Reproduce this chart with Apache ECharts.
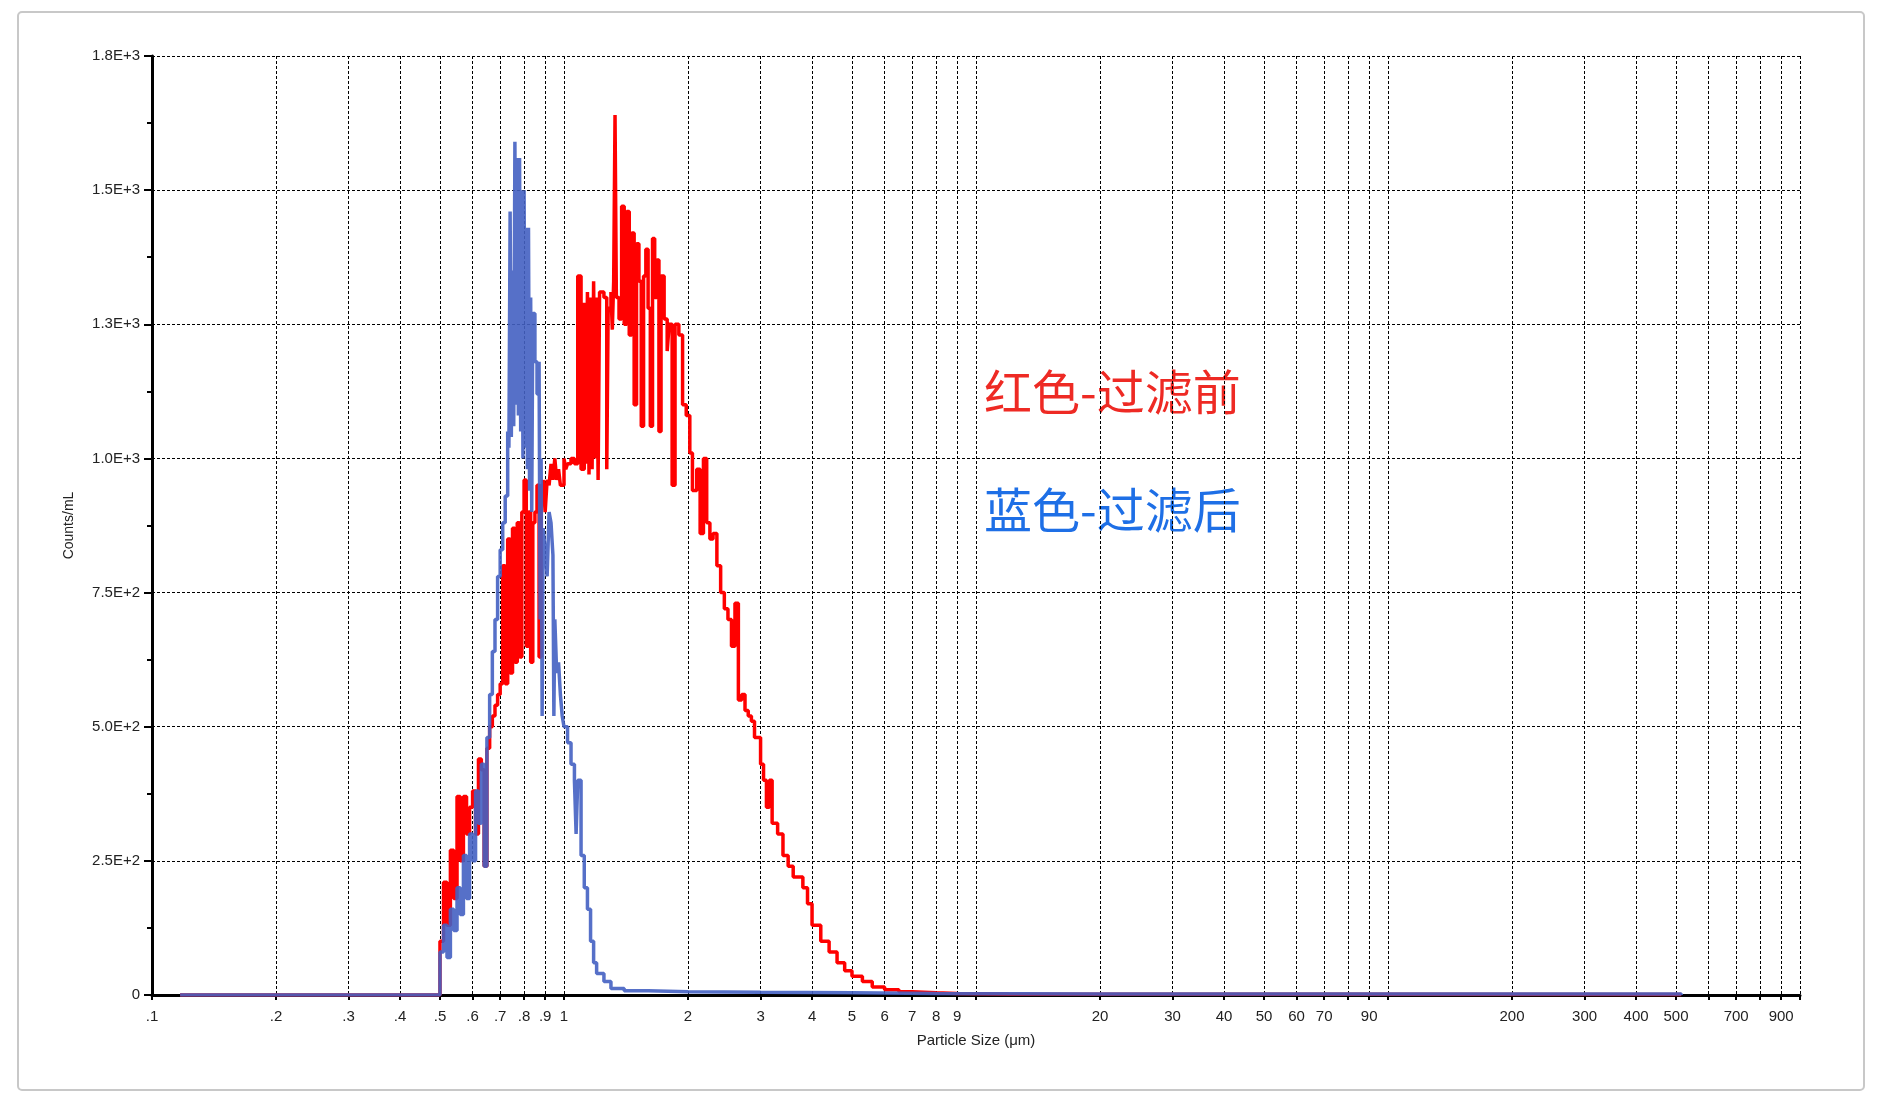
<!DOCTYPE html>
<html>
<head>
<meta charset="utf-8">
<script src="https://cdn.jsdelivr.net/npm/echarts@6/dist/echarts.min.js"></script>
<style>html,body{margin:0;padding:0;background:#fff;}#main{width:1878px;height:1098px;}</style>
</head>
<body>
<div id="main"></div>
<script>
// particle size (µm) and counts/mL
var redSize = [0.117,0.5,0.51,0.52,0.53,0.54,0.55,0.56,0.57,0.58,0.59,0.60,0.61,0.62,0.63,0.64,0.65,0.66,0.67,0.68,0.69,0.70,
  0.71,0.72,0.73,0.74,0.75,0.76,0.77,0.78,0.79,0.80,0.81,0.82,0.83,0.84,0.85,0.86,0.87,0.88,0.89,0.90,0.91,0.92,0.93,0.94,0.95,0.96,0.97,0.98,1.00,1.01,
  1.02,1.04,1.06,1.08,1.10,1.12,1.13,1.14,1.15,1.16,1.17,1.18,1.19,1.20,1.21,1.22,1.23,1.25,1.27,1.28,1.30,1.31,1.32,1.33,1.34,1.36,1.38,1.40,
  1.42,1.44,1.46,1.48,1.50,1.52,1.54,1.56,1.58,1.60,1.62,1.64,1.66,1.68,1.70,1.72,1.75,1.78,1.80,1.83,1.86,1.90,1.94,1.98,2.02,2.05,2.10,2.14,
  2.18,2.22,2.26,2.30,2.35,2.40,2.45,2.50,2.55,2.60,2.65,2.70,2.75,2.80,2.85,2.90,3.00,3.05,3.10,3.15,3.20,3.30,3.40,3.50,3.60,3.80,3.90,4.00,
  4.20,4.40,4.60,4.80,5.00,5.30,5.60,6.00,6.50,7.00,8.00,9.00,12,515];
var redCount = [0,100,210,130,270,180,370,250,370,300,350,380,300,440,420,240,460,500,520,540,560,580,
  800,580,850,600,870,620,880,630,900,960,650,900,620,880,900,950,630,950,960,900,960,950,990,960,1000,960,980,950,1000,980,
  990,1000,990,1340,980,1290,990,1310,970,1300,980,1330,1000,1300,960,1310,1310,1300,980,1280,1310,1240,1330,1640,1300,1260,1470,1250,
  1460,1230,1420,1100,1400,1330,1060,1340,1390,1280,1060,1410,1300,1370,1050,1340,1260,1200,1250,950,1250,1230,1100,1080,1010,940,980,860,
  1000,880,850,860,800,750,720,700,650,730,550,560,530,520,510,480,430,400,350,400,320,300,260,240,220,200,170,130,
  100,80,60,45,35,25,15,10,6,4,3,2,1,0];

var blueSize = [0.117,0.5,0.51,0.52,0.53,0.54,0.55,0.56,0.57,0.58,0.59,0.60,0.61,0.62,0.63,0.64,0.65,0.66,0.67,0.68,0.69,0.70,0.71,0.72,0.73,
  0.735,0.74,0.745,0.75,0.755,0.76,0.765,0.77,0.775,0.78,0.785,0.79,0.795,0.80,0.805,0.81,0.815,0.82,0.825,0.83,0.835,0.84,0.85,0.86,0.87,0.875,
  0.88,0.885,0.89,0.90,0.91,0.92,0.93,0.94,0.945,0.95,0.96,0.97,0.98,0.99,1.00,1.02,1.04,1.06,1.07,1.08,1.10,1.12,1.14,1.16,1.18,1.20,1.25,1.30,
  1.40,1.60,2,3,5,8,20,515];
var blueCount = [0,80,130,70,160,120,200,150,260,180,300,250,380,320,430,240,480,560,640,700,780,830,880,930,1050,
  1020,1460,1040,1350,1060,1590,1100,1560,1080,1560,1050,1500,1000,1500,1020,1430,980,1430,940,1300,900,1270,1180,1120,1180,700,
  1000,520,870,830,780,900,880,820,520,700,600,620,560,520,500,470,430,400,300,400,260,200,160,100,60,40,25,12,
  8,6,5,4,3,2,2,0];

var xTickValues = [0.1,0.2,0.3,0.4,0.5,0.6,0.7,0.8,0.9,1,2,3,4,5,6,7,8,9,10,20,30,40,50,60,70,80,90,100,200,300,400,500,600,700,800,900,1000];
var xTickLabels = ['.1','.2','.3','.4','.5','.6','.7','.8','.9','1','2','3','4','5','6','7','8','9','','20','30','40','50','60','70','','90','','200','300','400','500','','700','','900',''];
var yTickValues = [0,250,500,750,1000,1250,1500,1750];
var yTickLabels = ['0','2.5E+2','5.0E+2','7.5E+2','1.0E+3','1.3E+3','1.5E+3','1.8E+3'];

function pairs(xs, ys) {
  return xs.map(function (x, i) { return [x, ys[i]]; });
}

var myChart = echarts.init(document.getElementById('main'), null, { renderer: 'canvas' });

var font = 'Arial, "Liberation Sans", sans-serif';
var option = {
  animation: false,
  backgroundColor: '#fff',
  textStyle: { fontFamily: font },
  graphic: [
    { type: 'rect', shape: { x: 18, y: 12, width: 1846, height: 1078, r: 4 },
      style: { fill: 'none', stroke: '#c8c8c8', lineWidth: 2 }, z: -1 },
    { type: 'text', left: 984, top: 368,
      style: { text: '红色-过滤前', fill: '#ee2a24', font: '48px "Noto Sans CJK SC", sans-serif' } },
    { type: 'text', left: 984, top: 486,
      style: { text: '蓝色-过滤后', fill: '#1e6fe6', font: '48px "Noto Sans CJK SC", sans-serif' } }
  ],
  grid: { left: 152, right: 78, top: 56, bottom: 103 },
  xAxis: {
    type: 'log', logBase: 10, min: 0.1, max: 1000,
    name: 'Particle Size (μm)', nameLocation: 'middle', nameGap: 38,
    nameTextStyle: { fontSize: 15, color: '#222' },
    axisLine: { lineStyle: { color: '#000', width: 3 } },
    axisTick: { show: true, customValues: xTickValues, length: 5, lineStyle: { color: '#000', width: 2 } },
    axisLabel: {
      customValues: xTickValues, fontSize: 15, color: '#222', margin: 14,
      formatter: function (v) {
        for (var i = 0; i < xTickValues.length; i++) {
          if (Math.abs(Math.log10(v) - Math.log10(xTickValues[i])) < 1e-6) return xTickLabels[i];
        }
        return '';
      }
    },
    splitLine: { show: true, customValues: xTickValues, lineStyle: { color: '#000', type: [3, 2], width: 1 } }
  },
  yAxis: {
    type: 'value', min: 0, max: 1750, interval: 250,
    name: 'Counts/mL', nameLocation: 'middle', nameGap: 76, nameRotate: 90,
    nameTextStyle: { fontSize: 14, color: '#222' },
    axisLine: { show: true, lineStyle: { color: '#000', width: 3 } },
    axisTick: { show: true, length: 8, lineStyle: { color: '#000', width: 2 } },
    minorTick: { show: true, splitNumber: 2, length: 5, lineStyle: { color: '#000', width: 2 } },
    axisLabel: {
      fontSize: 15, color: '#222', margin: 12,
      formatter: function (v) {
        var i = yTickValues.indexOf(v);
        return i >= 0 ? yTickLabels[i] : '';
      }
    },
    splitLine: { show: true, lineStyle: { color: '#000', type: [3, 2], width: 1 } }
  },
  series: [
    { name: '过滤前', type: 'line', step: 'end', showSymbol: false,
      data: pairs(redSize, redCount), lineStyle: { color: '#ff0000', width: 3.5 } },
    { name: '过滤后', type: 'line', step: 'end', showSymbol: false,
      data: pairs(blueSize, blueCount), lineStyle: { color: '#4460c2', width: 3.5, opacity: 0.9 } }
  ]
};

myChart.setOption(option);
window.addEventListener('resize', myChart.resize);
</script>
</body>
</html>
